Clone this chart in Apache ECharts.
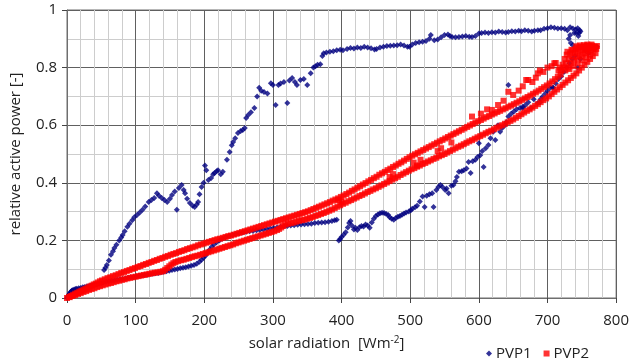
<!DOCTYPE html>
<html><head><meta charset="utf-8">
<script src="https://cdn.jsdelivr.net/npm/echarts@6/dist/echarts.min.js"></script>
<style>html,body{margin:0;padding:0;background:#fff}#c{width:632px;height:361px}</style>
</head><body><div id="c"></div><script>
// ---- data (x = solar radiation W/m2, y = relative active power) ----
const seriesNames = ['PVP1', 'PVP2'];
const xAxisRange = [0, 800];
const yAxisRange = [0, 1];

// PVP1: lower (afternoon) branch
const pvp1Lower = [
[0,0],[1,0.004],[2,0.008],[3,0.012],[4,0.016],[5,0.02],[6,0.022],[7,0.025],[8,0.027],[10,0.029],[12,0.031],[14,0.032],[17,0.034],[20,0.035],[23,0.037],[26,0.038],[29,0.04],[32,0.041],[35,0.043],[38,0.045],[41,0.047],[44,0.048],[47,0.05],[50,0.052],[53,0.054],[57,0.056],[61,0.058],[65,0.06],[69,0.061],[73,0.063],[77,0.065],[81,0.066],[85,0.068],[89,0.07],[93,0.072],[97,0.073],[101,0.075],[105,0.077],[109,0.078],[113,0.08],[117,0.081],[121,0.083],[125,0.084],[129,0.086],[133,0.087],[137,0.089],[141,0.091],[145,0.093],[149,0.095],[153,0.097],[157,0.099],[161,0.101],[165,0.103],[169,0.105],[173,0.107],[177,0.109],[181,0.112],[185,0.115],[189,0.119],[193,0.126],[196,0.133],[199,0.14],[202,0.148],[205,0.158],[208,0.168],[211,0.178],[214,0.186],[218,0.194],[222,0.2],[226,0.206],[231,0.211],[236,0.215],[241,0.219],[246,0.222],[251,0.225],[256,0.227],[261,0.23],[266,0.232],[271,0.233],[276,0.235],[281,0.236],[286,0.238],[291,0.24],[296,0.241],[301,0.243],[306,0.245],[311,0.247],[316,0.249],[321,0.25],[326,0.252],[331,0.253],[336,0.254],[341,0.255],[346,0.256],[351,0.257],[356,0.258],[361,0.26],[366,0.261],[371,0.262],[376,0.263],[381,0.265],[386,0.267],[390,0.27],[393,0.272],
[396,0.2],[398,0.205],[400,0.212],[403,0.22],[406,0.228],[409,0.245],[411,0.26],[413,0.267],[415,0.252],[418,0.238],[420,0.244],[423,0.236],[426,0.246],[429,0.25],[432,0.248],[435,0.255],[438,0.252],[441,0.244],[444,0.262],[447,0.275],[450,0.285],[453,0.29],[456,0.294],[459,0.296],[462,0.295],[465,0.292],[468,0.288],[470,0.28],[473,0.275],[476,0.272],[479,0.278],[482,0.282],[485,0.285],[488,0.289],[491,0.293],[494,0.297],[498,0.3],[501,0.305],[503,0.31],[507,0.315],[510,0.32],[514,0.335],[518,0.352],[521,0.316],[524,0.355],[528,0.36],[532,0.364],[534,0.316],[538,0.375],[541,0.385],[544,0.392],[547,0.385],[551,0.375],[553,0.38],
[556,0.364],[560,0.39],[563,0.392],[566,0.405],[568,0.42],[571,0.438],[575,0.44],[578,0.444],[582,0.45],[585,0.472],[588,0.434],[591,0.475],[595,0.48],[598,0.49],[600,0.537],[602,0.496],[605,0.51],[607,0.455],[610,0.52],[614,0.531],[617,0.555],[621,0.577],[624,0.549],[628,0.6],[631,0.577],[634,0.59],[638,0.6],[640,0.61],[643,0.63],[647,0.64],[651,0.648],[655,0.655],[660,0.66],[664,0.664],[668,0.67],[672,0.68],[676,0.66],[680,0.69],[686,0.677],[689,0.68],[693,0.7],[697,0.71],[700,0.72],[704,0.73],[708,0.73],[712,0.745],[716,0.76],[720,0.77],[724,0.785],[728,0.8],[732,0.815],[736,0.83],[740,0.84],[744,0.8],[737,0.878],[733,0.913],[746,0.92],[772,0.872],[770,0.87],[760,0.85],[755,0.86],[748,0.83],[643,0.74],[664,0.66],[708,0.73],[690,0.69]
];
// PVP1: upper (morning) branch
const pvp1Upper = [
[54,0.097],[56,0.105],[58,0.115],[61,0.13],[64,0.15],[67,0.162],[69,0.174],[72,0.185],[76,0.2],[79,0.21],[81,0.219],[84,0.232],[88,0.247],[91,0.258],[95,0.27],[98,0.28],[102,0.288],[106,0.297],[110,0.306],[114,0.318],[119,0.333],[123,0.34],[127,0.347],[131,0.364],[134,0.355],[138,0.347],[142,0.34],[146,0.333],[150,0.345],[153,0.358],[157,0.37],[160,0.306],[163,0.382],[167,0.392],[170,0.375],[172,0.364],[175,0.345],[179,0.33],[183,0.32],[186,0.316],[189,0.325],[191,0.333],[193,0.36],[196,0.385],[199,0.4],[201,0.46],[203,0.444],[206,0.41],[210,0.417],[213,0.43],[215,0.434],[218,0.44],[220,0.444],[224,0.43],[227,0.438],[233,0.48],[237,0.507],[240,0.53],[242,0.542],[245,0.555],[249,0.573],[253,0.58],[256,0.583],[259,0.59],[261,0.625],[264,0.635],[268,0.645],[273,0.66],[277,0.7],[280,0.73],[283,0.72],[287,0.715],[292,0.71],[297,0.746],[300,0.74],[304,0.67],[308,0.74],[311,0.745],[316,0.75],[321,0.677],[324,0.755],[328,0.764],[332,0.75],[335,0.74],[340,0.757],[345,0.76],[350,0.74],[355,0.78],[359,0.8],[362,0.805],[365,0.81],[369,0.812],[372,0.84],[374,0.85],[378,0.852],[383,0.855],[388,0.857],[393,0.86],[398,0.862],[402,0.86],[408,0.865],[413,0.868],[418,0.866],[423,0.87],[428,0.868],[433,0.872],[438,0.87],[443,0.867],[448,0.863],[451,0.865],[456,0.87],[461,0.872],[466,0.875],[471,0.876],[476,0.877],[481,0.878],[486,0.88],[491,0.877],[496,0.872],[499,0.872],[503,0.88],[508,0.885],[513,0.888],[518,0.89],[523,0.892],[528,0.9],[530,0.913],[535,0.895],[540,0.898],[545,0.905],[550,0.913],[555,0.915],[558,0.91],[561,0.906],[566,0.905],[571,0.906],[576,0.908],[581,0.91],[586,0.907],[590,0.906],[595,0.91],[600,0.918],[604,0.92],[609,0.922],[614,0.92],[619,0.923],[624,0.922],[629,0.925],[634,0.924],[639,0.922],[643,0.924],[648,0.926],[653,0.925],[658,0.928],[662,0.926],[667,0.93],[672,0.928],[677,0.925],[681,0.928],[686,0.93],[690,0.93],[695,0.935],[700,0.937],[705,0.94],[710,0.938],[715,0.936],[720,0.937],[725,0.935],[729,0.93],[733,0.94],[737,0.936],[741,0.932],[744,0.937],[747,0.93],[742,0.92],[739,0.92],[734,0.885],[731,0.9],[745,0.91],[748,0.925]
];
// PVP2: upper branch
const pvp2Upper = [
[0,0],[3,0.004],[6,0.007],[9,0.011],[12,0.015],[15,0.018],[18,0.022],[21,0.025],[24,0.029],[27,0.032],[30,0.036],[33,0.04],[36,0.043],[39,0.047],[42,0.05],[45,0.054],[48,0.058],[51,0.061],[55,0.065],[59,0.069],[63,0.072],[67,0.076],[71,0.079],[75,0.083],[79,0.087],[83,0.09],[87,0.094],[91,0.097],[95,0.101],[99,0.104],[103,0.108],[107,0.111],[111,0.115],[115,0.118],[119,0.122],[123,0.125],[127,0.129],[131,0.132],[135,0.136],[139,0.139],[143,0.143],[147,0.146],[151,0.15],[155,0.153],[159,0.156],[163,0.16],[167,0.163],[171,0.166],[175,0.17],[179,0.173],[183,0.176],[187,0.179],[191,0.183],[195,0.186],[199,0.189],[203,0.192],[207,0.195],[211,0.198],[215,0.201],[219,0.204],[223,0.206],[227,0.209],[231,0.212],[235,0.215],[239,0.217],[243,0.22],[247,0.223],[251,0.226],[255,0.229],[259,0.232],[263,0.235],[267,0.238],[271,0.241],[275,0.244],[279,0.247],[283,0.25],[287,0.253],[291,0.256],[295,0.259],[299,0.262],[303,0.265],[307,0.268],[311,0.271],[315,0.274],[319,0.277],[323,0.28],[327,0.283],[331,0.286],[335,0.289],[339,0.292],[343,0.295],[347,0.298],[351,0.301],[355,0.305],[359,0.309],[363,0.313],[367,0.317],[371,0.321],[375,0.325],[379,0.329],[383,0.333],[387,0.338],[391,0.342],[395,0.346],[399,0.351],[403,0.356],[407,0.361],[411,0.366],[415,0.372],[419,0.377],[423,0.383],[427,0.388],[431,0.394],[435,0.399],[439,0.405],[443,0.41],[447,0.416],[451,0.421],[455,0.428],[459,0.433],[463,0.438],[467,0.444],[471,0.449],[475,0.455],[479,0.46],[483,0.466],[487,0.471],[491,0.477],[495,0.483],[499,0.489],[503,0.494],[507,0.499],[511,0.504],[515,0.509],[519,0.514],[523,0.519],[527,0.524],[531,0.529],[535,0.534],[539,0.539],[543,0.544],[547,0.549],[551,0.554],[555,0.559],[559,0.564],[563,0.569],[567,0.574],[571,0.579],[575,0.584],[579,0.589],[583,0.594],[587,0.599],[591,0.604],[595,0.609],[599,0.614],[603,0.618],[607,0.623],[611,0.628],[615,0.632],[619,0.637],[623,0.641],[627,0.646],[631,0.65],[635,0.655],[639,0.659],[643,0.664],[647,0.668],[651,0.673],[655,0.678],[659,0.683],[663,0.688],[667,0.693],[671,0.698],[675,0.703],[679,0.709],[683,0.714],[687,0.72],[691,0.726],[695,0.732],[699,0.738],[703,0.745],[707,0.752],[711,0.76],[715,0.768],[719,0.776]
];
// PVP2: lower branch
const pvp2Lower = [
[4,0.003],[8,0.007],[12,0.01],[16,0.014],[20,0.017],[24,0.021],[28,0.024],[32,0.028],[36,0.031],[40,0.034],[44,0.038],[48,0.041],[52,0.044],[56,0.047],[60,0.05],[64,0.052],[68,0.055],[72,0.058],[76,0.06],[80,0.063],[84,0.065],[88,0.068],[92,0.07],[96,0.072],[100,0.074],[104,0.076],[108,0.078],[112,0.08],[116,0.082],[120,0.084],[124,0.086],[128,0.088],[132,0.089],[136,0.091],[140,0.093],[143,0.098],[146,0.104],[149,0.11],[152,0.116],[155,0.121],[158,0.125],[162,0.128],[166,0.131],[170,0.133],[174,0.136],[178,0.139],[182,0.142],[186,0.145],[190,0.147],[194,0.15],[198,0.153],[202,0.156],[206,0.159],[210,0.162],[214,0.165],[218,0.168],[222,0.171],[226,0.174],[230,0.177],[234,0.18],[238,0.183],[242,0.186],[246,0.19],[250,0.193],[254,0.196],[258,0.199],[262,0.202],[266,0.205],[270,0.208],[274,0.211],[278,0.214],[282,0.217],[286,0.22],[290,0.223],[294,0.226],[298,0.229],[302,0.232],[306,0.236],[309,0.24],[312,0.245],[315,0.25],[318,0.255],[322,0.258],[326,0.26],[330,0.262],[334,0.265],[338,0.268],[342,0.27],[346,0.272],[350,0.275],[354,0.278],[358,0.281],[362,0.285],[366,0.288],[370,0.292],[374,0.295],[378,0.299],[382,0.303],[386,0.307],[390,0.312],[394,0.317],[398,0.322],[402,0.327],[406,0.331],[410,0.336],[414,0.34],[418,0.345],[422,0.349],[426,0.354],[430,0.358],[434,0.363],[438,0.368],[442,0.372],[446,0.377],[450,0.381],[454,0.386],[458,0.391],[462,0.396],[466,0.401],[470,0.406],[474,0.411],[478,0.416],[482,0.421],[486,0.427],[490,0.432],[494,0.437],[498,0.442],[502,0.447],[506,0.451],[510,0.456],[514,0.46],[518,0.465],[522,0.469],[526,0.474],[530,0.478],[534,0.483],[538,0.487],[542,0.492],[546,0.496],[550,0.5],[554,0.505],[558,0.51],[562,0.515],[566,0.52],[570,0.525],[574,0.529],[578,0.534],[582,0.539],[586,0.544],[590,0.548],[594,0.553],[598,0.558],[602,0.562],[606,0.567],[610,0.572],[614,0.577],[618,0.581],[622,0.586],[626,0.591],[630,0.596],[634,0.6],[638,0.605],[642,0.61],[646,0.615],[650,0.62],[654,0.626],[658,0.632],[662,0.638],[666,0.644],[670,0.65],[674,0.655],[678,0.661],[682,0.667],[686,0.673],[690,0.68],[694,0.687],[698,0.693],[702,0.7],[706,0.708],[710,0.716],[714,0.724],[718,0.732],[722,0.74],[726,0.748],[730,0.756],[734,0.764],[738,0.772],[742,0.78],[746,0.79],[750,0.8],[754,0.81],[758,0.82],[762,0.83],[766,0.84],[770,0.85]
];
// PVP2: scattered points and high-irradiance cluster
const pvp2Scatter = [
[395,0.34],[400,0.335],[470,0.42],[475,0.43],[505,0.47],[510,0.46],[515,0.48],[540,0.51],[545,0.52],[560,0.54],
[590,0.63],[603,0.64],[612,0.655],[619,0.653],[628,0.67],[636,0.685],[643,0.716],[650,0.705],[658,0.72],[664,0.735],[669,0.757],[672,0.757],[678,0.75],[683,0.765],[686,0.78],[689,0.79],[694,0.785],[700,0.8],[706,0.805],[710,0.815],[712,0.816],
[720,0.79],[722,0.81],[724,0.8],[725,0.83],[727,0.815],[728,0.845],[730,0.8],[731,0.83],[733,0.85],[734,0.815],[736,0.84],[737,0.86],[739,0.825],[740,0.85],[741,0.865],[743,0.835],[744,0.855],[745,0.87],[747,0.84],[748,0.86],[749,0.872],[751,0.845],[752,0.862],[753,0.873],[755,0.85],[756,0.865],[757,0.875],[759,0.855],[760,0.868],[761,0.876],[763,0.86],[764,0.87],[765,0.876],[767,0.862],[768,0.872],[770,0.87],[771,0.865],[772,0.875],[726,0.79],[732,0.795],[738,0.805],[744,0.815],[750,0.825],[756,0.835],[762,0.845],[718,0.8],[716,0.79],[729,0.855],[735,0.862],[742,0.874],[747,0.877],[753,0.878],[758,0.88],[764,0.88]
];

const pvp1 = pvp1Lower.concat(pvp1Upper);
const pvp2 = pvp2Upper.concat(pvp2Lower, pvp2Scatter);

const FONT = '"Open Sans", "DejaVu Sans", sans-serif';
const chart = echarts.init(document.getElementById('c'), null, {renderer: 'canvas'});
chart.setOption({
  animation: false,
  backgroundColor: '#ffffff',
  grid: {left: 64, right: 13, top: 10, bottom: 63, show: true, borderColor: '#6e6e6e', borderWidth: 1, backgroundColor: 'transparent'},
  xAxis: {
    type: 'value', min: xAxisRange[0], max: xAxisRange[1], interval: 100,
    name: 'solar radiation  [Wm{sup|-2}]', nameLocation: 'middle', nameGap: 37,
    nameTextStyle: {fontFamily: FONT, fontSize: 15, color: '#222', padding: [0, 30, 0, 0],
      rich: {sup: {fontFamily: FONT, fontSize: 10, color: '#222', verticalAlign: 'top', padding: [0, 0, 7, 0]}}},
    axisLine: {show: true, lineStyle: {color: '#6e6e6e', width: 1}},
    axisTick: {show: true, inside: false, length: 5, lineStyle: {color: '#444'}},
    axisLabel: {fontFamily: FONT, fontSize: 15, color: '#222', margin: 15},
    splitLine: {show: true, lineStyle: {color: '#606060', width: 1}},
    minorTick: {show: false, splitNumber: 5},
    minorSplitLine: {show: true, lineStyle: {color: '#cdcdcd', width: 1}}
  },
  yAxis: {
    type: 'value', min: yAxisRange[0], max: yAxisRange[1], interval: 0.2,
    name: 'relative active power [-]', nameLocation: 'middle', nameGap: 44,
    nameTextStyle: {fontFamily: FONT, fontSize: 15, color: '#222'},
    axisLine: {show: true, lineStyle: {color: '#6e6e6e', width: 1}},
    axisTick: {show: true, inside: false, length: 5, lineStyle: {color: '#444'}},
    axisLabel: {fontFamily: FONT, fontSize: 15, color: '#222', margin: 10},
    splitLine: {show: true, lineStyle: {color: '#606060', width: 1}},
    minorTick: {show: false, splitNumber: 2},
    minorSplitLine: {show: true, lineStyle: {color: '#cdcdcd', width: 1}}
  },
  legend: {
    left: 481, top: 341, itemWidth: 6, itemHeight: 6, itemGap: 12,
    textStyle: {fontFamily: FONT, fontSize: 15, color: '#222', padding: [0, 0, 0, -1]},
    data: [{name: seriesNames[0], icon: 'diamond'}, {name: seriesNames[1], icon: 'rect'}]
  },
  series: [
    {name: seriesNames[0], type: 'scatter', data: pvp1, symbol: 'diamond', symbolSize: 6,
     itemStyle: {color: '#000080'}, z: 2},
    {name: seriesNames[1], type: 'scatter', data: pvp2, symbol: 'rect', symbolSize: 6,
     itemStyle: {color: '#ff0000'}, z: 3}
  ]
});
</script></body></html>
